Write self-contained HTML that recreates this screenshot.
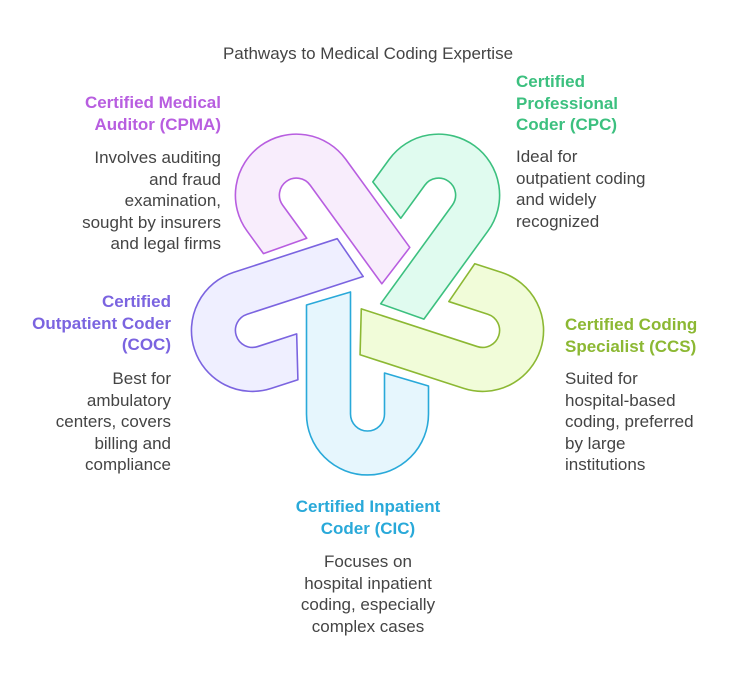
<!DOCTYPE html>
<html><head><meta charset="utf-8"><style>
body{margin:0;width:737px;height:683px;background:#fff;position:relative;overflow:hidden;font-family:"Liberation Sans",sans-serif;}
.t{position:absolute;font-size:17px;line-height:21.6px;color:#444;white-space:nowrap;}
.h{font-weight:bold;font-size:17px;}
.r{text-align:right;}
.c{text-align:center;}
</style></head><body>
<svg width="737" height="683" style="position:absolute;left:0;top:0">
<defs><path id="u" d="M -61,12 L -17,-1 L -17,121 A 17 17 0 0 0 17,121 L 17,80 L 61,93 L 61,121 A 61 61 0 0 1 -61,121 Z" stroke-linejoin="round"/></defs>
<g transform="translate(367.5,293)">
<g transform="rotate(144)"><use href="#u" fill="#f8edfc" stroke="#fff" stroke-width="8"/><use href="#u" fill="#f8edfc" stroke="#b85ee0" stroke-width="1.6"/></g>
<g transform="rotate(72)"><use href="#u" fill="#efefff" stroke="#fff" stroke-width="8"/><use href="#u" fill="#efefff" stroke="#7b64e0" stroke-width="1.6"/></g>
<g transform="rotate(-144)"><use href="#u" fill="#e0fbef" stroke="#fff" stroke-width="8"/><use href="#u" fill="#e0fbef" stroke="#3cc07f" stroke-width="1.6"/></g>
<g transform="rotate(-72)"><use href="#u" fill="#f1fcd9" stroke="#fff" stroke-width="8"/><use href="#u" fill="#f1fcd9" stroke="#8cb833" stroke-width="1.6"/></g>
<g><use href="#u" fill="#e6f6fd" stroke="#fff" stroke-width="8"/><use href="#u" fill="#e6f6fd" stroke="#29a9d9" stroke-width="1.6"/></g>
</g>
</svg>
<div class="t c" style="left:118px;width:500px;top:43px;font-size:17px;">Pathways to Medical Coding Expertise</div>

<div class="t r h" style="right:516px;top:92px;color:#b85ee0">Certified Medical<br>Auditor (CPMA)</div>
<div class="t r" style="right:516px;top:147px">Involves auditing<br>and fraud<br>examination,<br>sought by insurers<br>and legal firms</div>

<div class="t h" style="left:516px;top:71px;color:#3cc07f">Certified<br>Professional<br>Coder (CPC)</div>
<div class="t" style="left:516px;top:146px">Ideal for<br>outpatient coding<br>and widely<br>recognized</div>

<div class="t h" style="left:565px;top:314px;color:#8cb833">Certified Coding<br>Specialist (CCS)</div>
<div class="t" style="left:565px;top:368px">Suited for<br>hospital-based<br>coding, preferred<br>by large<br>institutions</div>

<div class="t r h" style="right:566px;top:291px;color:#7b64e0">Certified<br>Outpatient Coder<br>(COC)</div>
<div class="t r" style="right:566px;top:368px">Best for<br>ambulatory<br>centers, covers<br>billing and<br>compliance</div>

<div class="t c h" style="left:218px;width:300px;top:496px;color:#29a9d9">Certified Inpatient<br>Coder (CIC)</div>
<div class="t c" style="left:218px;width:300px;top:551px">Focuses on<br>hospital inpatient<br>coding, especially<br>complex cases</div>
</body></html>
